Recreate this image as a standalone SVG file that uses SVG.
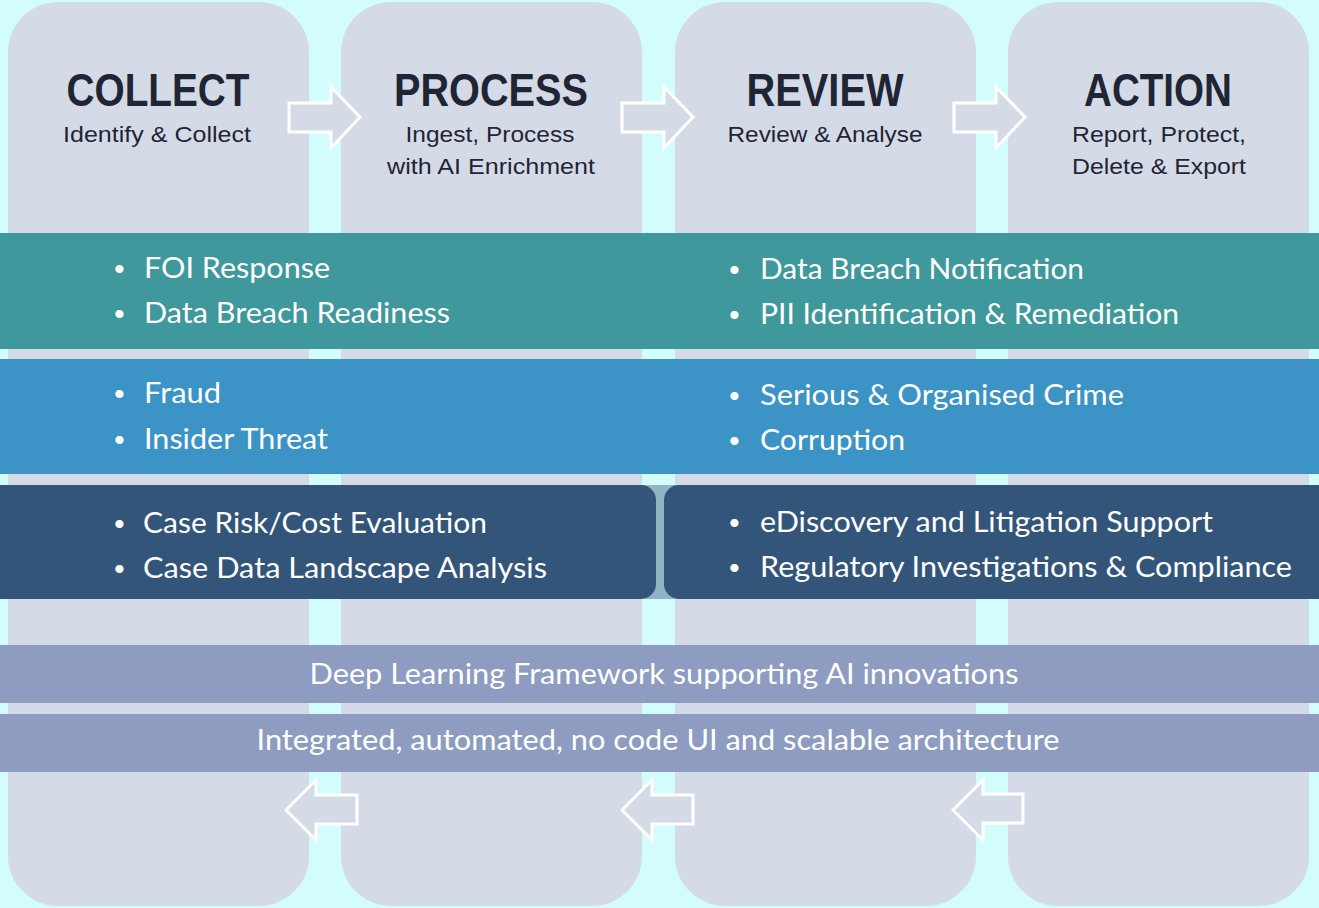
<svg xmlns="http://www.w3.org/2000/svg" width="1319" height="908" viewBox="0 0 1319 908">
<style>
.col{fill:#d5dbe6}
.title{font-family:"Liberation Sans",Arial,sans-serif;font-weight:bold;font-size:46px;fill:#1f2535;text-anchor:middle}
.sub{font-family:"Liberation Sans",Arial,sans-serif;font-size:22px;fill:#1f2535;text-anchor:middle}
.arrow{fill:#d5dbe6;stroke:#ffffff;stroke-width:3}
.bt{font-family:Lato,"Open Sans",sans-serif;font-weight:400;font-size:28px;fill:#ffffff}
.bu{font-family:Lato,"Open Sans",sans-serif;font-size:22px;fill:#ffffff}
.ct{font-family:Lato,"Open Sans",sans-serif;font-weight:400;font-size:28px;fill:#ffffff;text-anchor:middle}
</style>
<rect width="1319" height="908" fill="#d3fdfd"/>
<g id="col-collect">
<rect class="col" x="8" y="2" width="301" height="904" rx="50"/>
<text class="title" x="158" y="106" textLength="183" lengthAdjust="spacingAndGlyphs">COLLECT</text>
<text class="sub" x="157" y="142" textLength="188" lengthAdjust="spacingAndGlyphs">Identify &amp; Collect</text>
</g>
<g id="col-process">
<rect class="col" x="341" y="2" width="301" height="904" rx="50"/>
<text class="title" x="491" y="106" textLength="194" lengthAdjust="spacingAndGlyphs">PROCESS</text>
<text class="sub" x="490" y="142" textLength="169" lengthAdjust="spacingAndGlyphs">Ingest, Process</text>
<text class="sub" x="491" y="174" textLength="208" lengthAdjust="spacingAndGlyphs">with AI Enrichment</text>
</g>
<g id="col-review">
<rect class="col" x="675" y="2" width="301" height="904" rx="50"/>
<text class="title" x="825" y="106" textLength="157" lengthAdjust="spacingAndGlyphs">REVIEW</text>
<text class="sub" x="825" y="142" textLength="195" lengthAdjust="spacingAndGlyphs">Review &amp; Analyse</text>
</g>
<g id="col-action">
<rect class="col" x="1008" y="2" width="301" height="904" rx="50"/>
<text class="title" x="1158" y="106" textLength="148" lengthAdjust="spacingAndGlyphs">ACTION</text>
<text class="sub" x="1159" y="142" textLength="174" lengthAdjust="spacingAndGlyphs">Report, Protect,</text>
<text class="sub" x="1159" y="174" textLength="174" lengthAdjust="spacingAndGlyphs">Delete &amp; Export</text>
</g>
<g id="connectors">
<polygon class="arrow" points="289,103 331,103 331,87 360,117 331,148 331,132 289,132"/>
<polygon class="arrow" points="622,103 664,103 664,87 693,117 664,148 664,132 622,132"/>
<polygon class="arrow" points="954,103 996,103 996,87 1025,117 996,148 996,132 954,132"/>
<polygon class="arrow" points="286,810 316,780 316,795 357,795 357,824 316,824 316,840"/>
<polygon class="arrow" points="622,810 652,780 652,795 693,795 693,824 652,824 652,840"/>
<polygon class="arrow" points="953,810 983,780 983,794 1023,794 1023,823 983,823 983,840"/>
</g>
<g id="band-teal">
<rect x="0" y="233" width="1319" height="116" fill="#3f989b"/>
<text class="bu" x="113" y="276">•</text><text class="bt" x="144" y="278" textLength="186" lengthAdjust="spacingAndGlyphs">FOI Response</text>
<text class="bu" x="113" y="321">•</text><text class="bt" x="144" y="323" textLength="306" lengthAdjust="spacingAndGlyphs">Data Breach Readiness</text>
<text class="bu" x="728" y="277">•</text><text class="bt" x="760" y="279" textLength="324" lengthAdjust="spacingAndGlyphs">Data Breach Notification</text>
<text class="bu" x="728" y="322">•</text><text class="bt" x="760" y="324" textLength="419" lengthAdjust="spacingAndGlyphs">PII Identification &amp; Remediation</text>
</g>
<g id="band-blue">
<rect x="0" y="359" width="1319" height="115" fill="#3c93c5"/>
<text class="bu" x="113" y="401">•</text><text class="bt" x="144" y="403" textLength="77" lengthAdjust="spacingAndGlyphs">Fraud</text>
<text class="bu" x="113" y="447">•</text><text class="bt" x="144" y="449" textLength="184" lengthAdjust="spacingAndGlyphs">Insider Threat</text>
<text class="bu" x="728" y="403">•</text><text class="bt" x="760" y="405" textLength="364" lengthAdjust="spacingAndGlyphs">Serious &amp; Organised Crime</text>
<text class="bu" x="728" y="448">•</text><text class="bt" x="760" y="450" textLength="145" lengthAdjust="spacingAndGlyphs">Corruption</text>
</g>
<g id="band-dark">
<rect x="640" y="485" width="40" height="114" fill="#8fb4c4"/>
<path d="M0,485 H641 A15,15 0 0 1 656,500 V584 A15,15 0 0 1 641,599 H0 Z" fill="#34557a"/>
<path d="M679,485 H1319 V599 H679 A15,15 0 0 1 664,584 V500 A15,15 0 0 1 679,485 Z" fill="#34557a"/>
<text class="bu" x="113" y="531">•</text><text class="bt" x="143" y="533" textLength="344" lengthAdjust="spacingAndGlyphs">Case Risk/Cost Evaluation</text>
<text class="bu" x="113" y="576">•</text><text class="bt" x="143" y="578" textLength="404" lengthAdjust="spacingAndGlyphs">Case Data Landscape Analysis</text>
<text class="bu" x="728" y="530">•</text><text class="bt" x="760" y="532" textLength="453" lengthAdjust="spacingAndGlyphs">eDiscovery and Litigation Support</text>
<text class="bu" x="728" y="575">•</text><text class="bt" x="760" y="577" textLength="532" lengthAdjust="spacingAndGlyphs">Regulatory Investigations &amp; Compliance</text>
</g>
<g id="band-deep-learning">
<rect x="0" y="645" width="1319" height="58" fill="#8d9cc0"/>
<text class="ct" x="664" y="684" textLength="709" lengthAdjust="spacingAndGlyphs">Deep Learning Framework supporting AI innovations</text>
</g>
<g id="band-architecture">
<rect x="0" y="714" width="1319" height="58" fill="#8d9cc0"/>
<text class="ct" x="658" y="750" textLength="803" lengthAdjust="spacingAndGlyphs">Integrated, automated, no code UI and scalable architecture</text>
</g>
</svg>
